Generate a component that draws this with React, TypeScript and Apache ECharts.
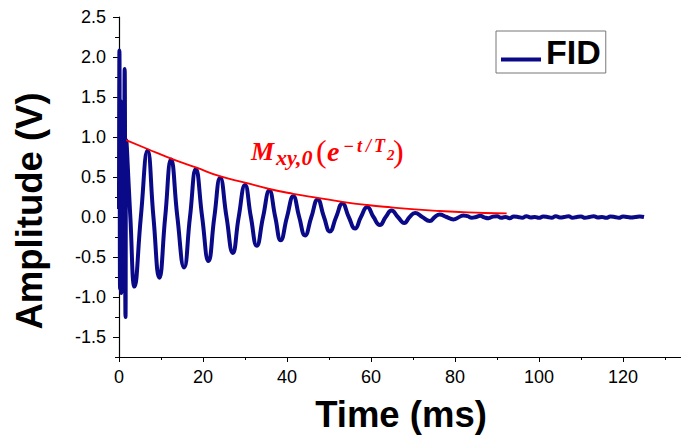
import React, { useEffect, useRef } from "react";
import * as echarts from "echarts";

// FID signal (time in ms, amplitude in V)
const fidTime = [
  0, 0.1, 0.25, 0.4, 0.55, 0.7, 0.85, 1.0, 1.15, 1.35, 1.55, 1.75,
  2.7, 3.7, 5.2, 6.8, 8.2, 9.6, 11.0, 12.4, 13.9, 15.5, 16.9, 18.3, 19.8, 21.3, 22.7,
  24.1, 25.6, 27.1, 28.5, 30.0, 31.4, 32.8, 34.3, 35.8, 37.2, 38.5, 40.0, 41.5, 42.9,
  44.3, 45.8, 47.3, 48.8, 50.2, 51.7, 53.2, 54.7, 56.2, 57.6, 59.1, 60.6, 62.1, 63.5,
  64.9, 66.4, 67.9, 69.2, 70.5, 72.2, 74.0, 75.2, 76.3, 78.0, 79.6, 81.0, 82.0,
  83, 84, 85, 86, 87, 88, 89, 90, 91, 92, 93, 94, 95, 96, 97, 98, 99, 100, 101, 102,
  103, 104, 105, 106, 107, 108, 109, 110, 111, 112, 113, 114, 115, 116, 117, 118, 119,
  120, 121, 122, 123, 124, 125,
];
const fidAmp = [
  0.1, 2.08, -0.9, 1.45, -0.95, 1.2, -0.6, 0.95, -0.3, 1.85, -1.25, 0.96,
  0, -0.87, 0, 0.83, 0, -0.76, 0, 0.72, 0, -0.63, 0, 0.6, 0, -0.55, 0,
  0.49, 0, -0.45, 0, 0.4, 0, -0.36, 0, 0.33, 0, -0.29, 0, 0.26, 0,
  -0.23, 0, 0.22, 0, -0.18, 0, 0.17, 0, -0.145, 0, 0.125, 0, -0.1, 0,
  0.08, 0, -0.075, 0, 0.05, 0, -0.05, 0, 0.03, 0, -0.03, 0, 0.02,
  0.01, -0.01, 0.0, 0.015, -0.005, -0.015, 0.005, 0.01, -0.01, 0.0, -0.015, 0.005, 0.0, -0.01, 0.01, -0.005, 0.0, -0.01, 0.005, 0.0,
  -0.01, 0.01, -0.005, 0.0, 0.01, -0.01, 0.0, 0.005, -0.01, 0.0, 0.01, -0.005, 0.0, -0.01, 0.005, 0.0, -0.01,
  0.005, 0.0, -0.005, 0.0, 0.005, 0.0,
];

// Decay envelope M_xy,0 e^{-t/T2}
const envTime = [1.7, 6.8, 12.4, 18.3, 24, 30, 35.8, 41.5, 47.3, 53.2, 59.1, 64.9, 70.5, 76.3, 82, 87, 92.3];
const envAmp = [0.96, 0.85, 0.73, 0.62, 0.51, 0.43, 0.35, 0.29, 0.24, 0.19, 0.15, 0.12, 0.095, 0.075, 0.06, 0.05, 0.045];

const seriesName = "FID";
const xTitle = "Time (ms)";
const yTitle = "Amplitude (V)";

const SANS = "'Liberation Sans', Arial, sans-serif";
const SERIF = "'Liberation Serif', 'Times New Roman', serif";

export default function App() {
  const ref = useRef<HTMLDivElement>(null);
  useEffect(() => {
    if (!ref.current) return;
    document.body.style.margin = "0";
    const chart = echarts.init(ref.current, null, { renderer: "svg" });
    const fid = fidTime.map((t, i) => [t, fidAmp[i]]);
    const env = envTime.map((t, i) => [t, envAmp[i]]);
    const red = "#ff0000";
    const bi = { fill: red, fontFamily: SERIF, fontStyle: "italic", fontWeight: "bold" };
    const reg = { fill: red, fontFamily: SERIF };
    const txt = (text: string, left: number, top: number, size: number, st: any) => ({
      type: "text",
      left,
      top,
      silent: true,
      style: { ...st, text, fontSize: size },
    });
    chart.setOption({
      animation: false,
      backgroundColor: "#ffffff",
      grid: [
        { left: 119, top: 17, right: -26, bottom: 80, containLabel: false, outerBoundsMode: "none" },
        { left: 119, top: 17, right: -26, bottom: 100, containLabel: false, outerBoundsMode: "none" },
      ],
      legend: {
        data: [seriesName],
        left: 496,
        top: 31,
        padding: [4, 5, 4, 5],
        borderColor: "#777777",
        borderWidth: 1,
        itemWidth: 40,
        itemHeight: 19,
        icon: "path://M0,0 M0,15 L40,15 L40,19 L0,19 Z",
        textStyle: { fontFamily: SANS, fontWeight: "bold", fontSize: 34, color: "#000", lineHeight: 34 },
      },
      xAxis: [
        {
          type: "value",
          gridIndex: 0,
          min: 0,
          max: 140,
          interval: 20,
          name: xTitle,
          nameLocation: "middle",
          nameGap: 39,
          nameTextStyle: { fontFamily: SANS, fontWeight: "bold", fontSize: 36.5, color: "#000", padding: [0, 24, 0, 0] },
          axisLine: { onZero: false, lineStyle: { color: "#000", width: 1.2 } },
          axisTick: { show: true, inside: false, length: 5, lineStyle: { color: "#000" } },
          minorTick: { show: true, splitNumber: 2, length: 3, lineStyle: { color: "#000" } },
          axisLabel: { fontFamily: SANS, fontSize: 18, color: "#000", margin: 11, showMaxLabel: false },
          splitLine: { show: false },
        },
        { type: "value", gridIndex: 1, min: 0, max: 140, show: false },
      ],
      yAxis: [
        {
          type: "value",
          gridIndex: 0,
          min: -1.75,
          max: 2.5,
          interval: 0.25,
          name: yTitle,
          nameLocation: "middle",
          nameGap: 71,
          nameTextStyle: { fontFamily: SANS, fontWeight: "bold", fontSize: 36.5, color: "#000", padding: [0, 48, 0, 0] },
          axisLine: { show: true, onZero: false, lineStyle: { color: "#000", width: 1.2 } },
          axisTick: { show: true, length: 4, lineStyle: { color: "#000" } },
          axisLabel: { show: false },
          splitLine: { show: false },
        },
        {
          type: "value",
          gridIndex: 1,
          min: -1.5,
          max: 2.5,
          interval: 0.5,
          axisLine: { show: false, onZero: false },
          axisTick: { show: true, length: 6, lineStyle: { color: "#000" } },
          axisLabel: { fontFamily: SANS, fontSize: 18, color: "#000", margin: 13, formatter: (v: number) => v.toFixed(1) },
          splitLine: { show: false },
        },
      ],
      series: [
        {
          name: seriesName,
          type: "line",
          xAxisIndex: 0,
          yAxisIndex: 0,
          data: fid,
          smooth: true,
          showSymbol: false,
          symbol: "none",
          lineStyle: { color: "#0a0a88", width: 4 },
          itemStyle: { color: "#0a0a88" },
          clip: true,
        },
        {
          name: "envelope",
          type: "line",
          xAxisIndex: 0,
          yAxisIndex: 0,
          data: env,
          smooth: true,
          showSymbol: false,
          symbol: "none",
          lineStyle: { color: red, width: 1.8 },
          itemStyle: { color: red },
          z: 3,
        },
      ],
      graphic: [
        txt("M", 251, 138.5, 26, bi),
        txt("xy,0", 276, 146, 22, bi),
        txt("(", 316, 134.5, 32, reg),
        txt("e", 327, 137, 28, bi),
        txt("\u2212", 343, 137, 18, bi),
        txt("t", 357, 137, 18, bi),
        txt("/", 366, 137, 18, bi),
        txt("T", 374, 137, 18, bi),
        txt("2", 387, 147.5, 15, bi),
        txt(")", 393, 134.5, 32, reg),
      ],
    });
    return () => chart.dispose();
  }, []);
  return <div ref={ref} style={{ width: 681, height: 437 }} />;
}
